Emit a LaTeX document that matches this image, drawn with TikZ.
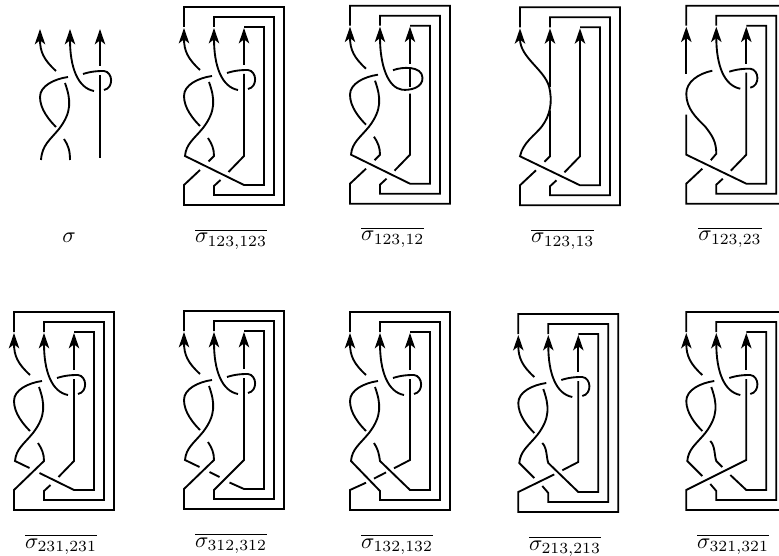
\documentclass[tikz,border=0pt]{standalone}
\usetikzlibrary{arrows.meta}
\tikzset{
  kn/.style={line width=1.4pt,line join=miter,black},
  up/.style={kn,-{Stealth[length=11.5pt,width=7.8pt,inset=3pt]}},
  lab/.style={scale=1.66,inner sep=0pt,anchor=base}
}
\def\kMid{(25,75) .. controls (31,92) and (32,104) .. (19,121) .. controls (10,132) and (2,137) .. (1,149)}
\def\kLow{(24,131) .. controls (28,137) and (30,142) .. (30,149)}
\def\kThr{(60,178) -- (80,178) -- (80,20) -- (60,20)}
\def\kOut{(0,178) -- (0,198) -- (100,198) -- (100,0) -- (0,0) -- (0,20)}
\def\kSec{(30,179) -- (30,188) -- (90,188) -- (90,10) -- (30,10) -- (30,20)}
\newcommand\kLeft{\draw[up] (16,63) .. controls (4,52) and (0,44) .. (0,21);}
\newcommand\kLobe{\draw[kn] (28,69) .. controls (14,71) and (0,78) .. (0,89) .. controls (0,101) and (9,112) .. (16,119);}
\newcommand\kTwo{\draw[up] (54,83) .. controls (38,80) and (30,60) .. (30,21);}
\newcommand\kLoop{\draw[kn] (43,66) .. controls (52,63) and (60,63) .. (64,63) .. controls (73,64) and (74,80) .. (64,82);}
\newcommand\kThree{\draw[up] (60,58) -- (60,21);}
\newcommand\kCross{\kLeft\kLobe\kTwo\kLoop\kThree}
\newcommand\kBotA{%
  \draw[kn] \kMid -- \kThr;
  \draw[kn] \kLow -- (24.5,154.5);
  \draw[kn] (16,163) -- \kOut;
  \draw[kn] (36.5,173) -- \kSec;
}
\begin{document}
\begin{tikzpicture}[x=0.75pt,y=-0.75pt]
\useasboundingbox (0,0) rectangle (779,556);
\clip (0,0) rectangle (779,556);
% sigma
\begin{scope}[shift={(40,8)}]
  \kCross
  \draw[kn] (60,67) -- (60,150);
  \draw[kn] (25,75) .. controls (31,92) and (32,104) .. (19,121) .. controls (10,132) and (2,137) .. (1,152);
  \draw[kn] (24,131) .. controls (28,137) and (30,142) .. (30,152);
\end{scope}
\node[lab] (l0) at (69,243) {$\sigma$};
% 123,123
\begin{scope}[shift={(184,7)}]
  \kCross
  \draw[kn] (60,67) -- (60,149) -- (44.5,165);
  \kBotA
\end{scope}
\node[lab] (l1) at (231,243) {$\overline{\sigma_{123,123}}$};
% 123,12
\begin{scope}[shift={(350,5.7)}]
  \kLeft\kLobe\kThree
  \draw[up] (43,64.5) .. controls (52,61) and (72,60) .. (72.5,72) .. controls (73,82) and (60,85) .. (52,84) .. controls (38,82) and (30,60) .. (30,21);
  \draw[kn] (60,63.5) -- (60,81);
  \draw[kn] (60,88) -- (60,149) -- (44.5,165);
  \kBotA
\end{scope}
\node[lab] (l2) at (392.7,241) {$\overline{\sigma_{123,12}}$};
% 123,13
\begin{scope}[shift={(520,7.3)}]
  \draw[up] (60,20) -- (80,20) -- (80,178) -- (60,178) -- (0,149) .. controls (3,135) and (15,128) .. (22,119) .. controls (30,108) and (33,95) .. (29,79) .. controls (24,62) and (0,50) .. (0,21);
  \draw[up] (30,80) -- (30,21);
  \draw[kn] (30,103) -- (30,149) -- (24.5,154.5);
  \draw[kn] (16,163) -- \kOut;
  \draw[up] (44.5,165) -- (60,149) -- (60,21);
  \draw[kn] (36.5,173) -- \kSec;
\end{scope}
\node[lab] (l3) at (562.7,243) {$\overline{\sigma_{123,13}}$};
% 123,23
\begin{scope}[shift={(686.3,5.7)}]
  \kTwo\kLoop\kThree
  \draw[up] (0,68) -- (0,21);
  \draw[kn] (0,109) -- (0,149) -- \kThr;
  \draw[kn] (26,65) .. controls (12,68) and (0,76) .. (0,88) .. controls (0,103) and (10,112) .. (19,121) .. controls (26,130) and (30,136) .. (30,148) -- (24.5,154.5);
  \draw[kn] (16,163) -- \kOut;
  \draw[kn] (60,67) -- (60,149) -- (44.5,165);
  \draw[kn] (36.5,173) -- \kSec;
\end{scope}
\node[lab] (l4) at (730,241) {$\overline{\sigma_{123,23}}$};
% 231,231
\begin{scope}[shift={(14,312)}]
  \kCross
  \draw[kn] \kMid -- (15.5,156);
  \draw[kn] (25.5,161) -- \kThr;
  \draw[kn] \kLow -- \kOut;
  \draw[kn] (60,67) -- (60,149) -- (44.5,165);
  \draw[kn] (36.5,173) -- \kSec;
\end{scope}
\node[lab] (l5) at (61,548) {$\overline{\sigma_{231,231}}$};
% 312,312
\begin{scope}[shift={(184,311)}]
  \kCross
  \draw[kn] \kMid -- (15.5,156);
  \draw[kn] (25.5,161) -- (35.5,166);
  \draw[kn] (45.5,171.5) -- \kThr;
  \draw[kn] \kLow -- \kOut;
  \draw[kn] (60,67) -- (60,149) -- \kSec;
\end{scope}
\node[lab] (l6) at (231,547) {$\overline{\sigma_{312,312}}$};
% 132,132
\begin{scope}[shift={(350,312)}]
  \kCross
  \draw[kn] \kMid -- \kSec;
  \draw[kn] (24,131) .. controls (28,137) and (29,142) .. (30,149) -- \kThr;
  \draw[kn] (60,67) -- (60,148) -- (44,156.3);
  \draw[kn] (36,160.4) -- (24,166.6);
  \draw[kn] (16,170.7) -- \kOut;
\end{scope}
\node[lab] (l7) at (397,548) {$\overline{\sigma_{132,132}}$};
% 213,213
\begin{scope}[shift={(518.3,314)}]
  \kCross
  \draw[kn] \kMid -- (16,164);
  \draw[kn] (24,172) -- \kSec;
  \draw[kn] (24,129) .. controls (29,134) and (28,144) .. (30,149) -- \kThr;
  \draw[kn] (60,67) -- (60,148) -- (44,156.3);
  \draw[kn] (36,160.4) -- \kOut;
\end{scope}
\node[lab] (l8) at (565,550) {$\overline{\sigma_{213,213}}$};
% 321,321
\begin{scope}[shift={(686.3,312)}]
  \kCross
  \draw[kn] \kMid -- (16,164);
  \draw[kn] (24,172) -- \kSec;
  \draw[kn] (24,129) .. controls (29,134) and (28,144) .. (30,149) -- (36,155);
  \draw[kn] (44,163) -- \kThr;
  \draw[kn] (60,67) -- (60,148) -- \kOut;
\end{scope}
\node[lab] (l9) at (733,548) {$\overline{\sigma_{321,321}}$};
\end{tikzpicture}
\end{document}
